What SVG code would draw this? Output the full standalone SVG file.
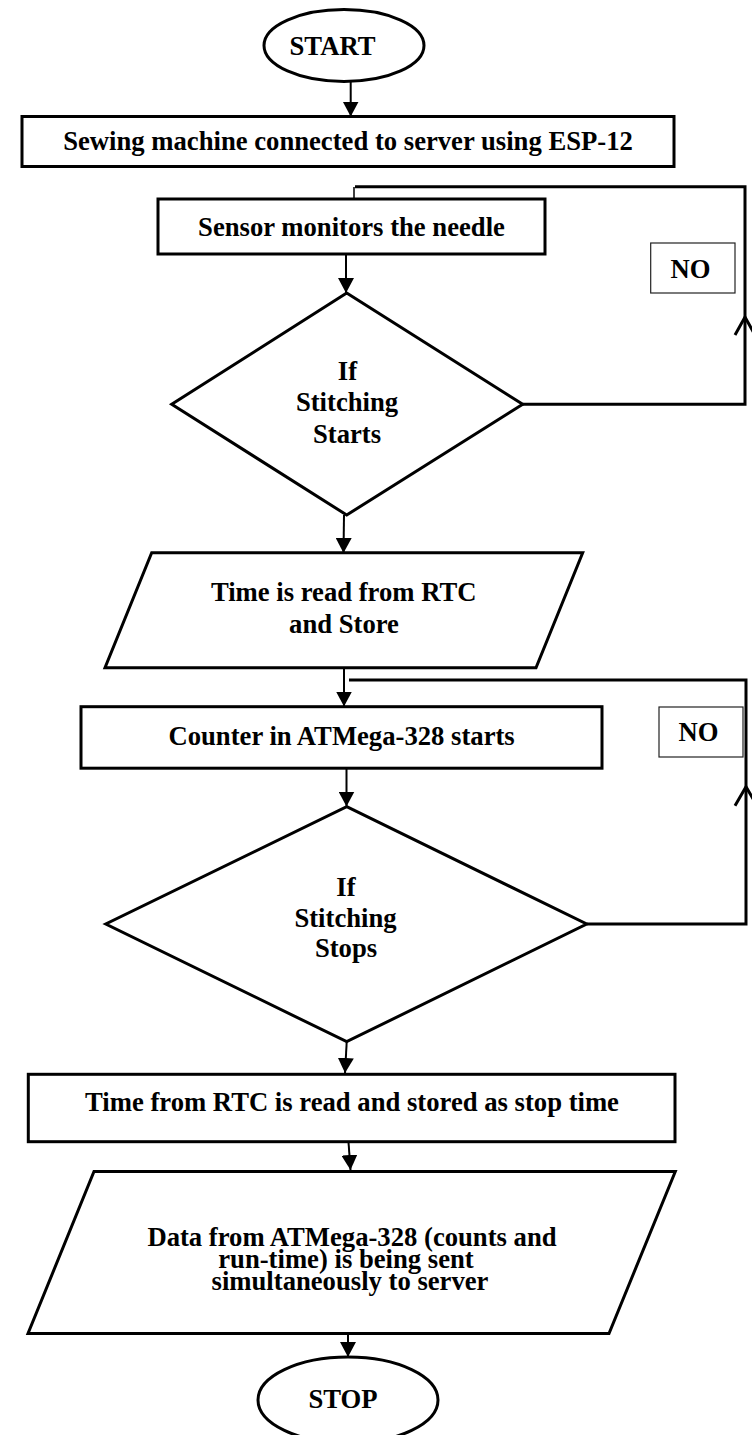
<svg xmlns="http://www.w3.org/2000/svg" width="752" height="1435" viewBox="0 0 752 1435">
<defs>
<marker id="ah" markerUnits="userSpaceOnUse" markerWidth="15" markerHeight="16" refX="15" refY="8" orient="auto" viewBox="0 0 15 16">
<path d="M0,0 L15,8 L0,16 z" fill="#000"/>
</marker>
</defs>
<style>
.box{fill:#fff;stroke:#000;stroke-width:3}
.nobox{fill:#fff;stroke:#222;stroke-width:1.2}
.t{font-family:"Liberation Serif","Times New Roman",serif;font-weight:bold;font-size:26.67px;fill:#000;text-anchor:middle}
.ar{stroke:#000;stroke-width:2;fill:none;marker-end:url(#ah)}
.loop{stroke:#000;stroke-width:3;fill:none}
.thin{stroke:#000;stroke-width:1.5;fill:none}
</style>
<rect width="752" height="1435" fill="#fff"/>
<g id="connectors">
<line class="ar" x1="350.7" y1="82" x2="350.7" y2="116.5"/>
<line class="thin" x1="354" y1="187" x2="354" y2="199"/>
<line class="ar" x1="346" y1="254" x2="346" y2="293"/>
<line class="ar" x1="344" y1="515" x2="343.5" y2="553"/>
<line class="ar" x1="344" y1="668" x2="344" y2="706.5"/>
<line class="ar" x1="346.5" y1="768" x2="346.5" y2="806.5"/>
<line class="ar" x1="346.7" y1="1042" x2="345" y2="1073"/>
<line class="ar" x1="348.5" y1="1142" x2="350.5" y2="1170"/>
<line class="ar" x1="348" y1="1334" x2="348" y2="1357"/>
<polyline class="loop" points="522.7,404.3 745,404.3 745,186.7 355,186.7"/>
<polyline class="loop" points="735,335 745,317 755,335"/>
<polyline class="loop" points="586.7,924 746,924 746,680 349,680"/>
<polyline class="loop" points="735,805.7 746,786.7 757,805.7"/>
</g>
<g id="start">
<ellipse class="box" cx="344" cy="45.5" rx="80" ry="36"/>
<text class="t" x="332.5" y="54.5">START</text>
</g>
<g id="connect">
<rect class="box" x="22" y="116.5" width="652" height="50"/>
<text class="t" x="348" y="150">Sewing machine connected to server using ESP-12</text>
</g>
<g id="sensor">
<rect class="box" x="158" y="199" width="387" height="55"/>
<text class="t" x="351.5" y="236">Sensor monitors the needle</text>
</g>
<g id="no1">
<rect class="nobox" x="650.7" y="243" width="84.3" height="50"/>
<text class="t" x="690.5" y="278.3">NO</text>
</g>
<g id="decision1">
<polygon class="box" points="346.7,293 522.7,404.3 346.7,515 171.7,404.3"/>
<text class="t" x="347.5" y="379.5">If</text>
<text class="t" x="347" y="411">Stitching</text>
<text class="t" x="347" y="442.7">Starts</text>
</g>
<g id="readtime">
<polygon class="box" points="151.7,552.7 582.7,552.7 536,667.7 105,667.7"/>
<text class="t" x="343.7" y="600.7">Time is read from RTC</text>
<text class="t" x="344" y="633.3">and Store</text>
</g>
<g id="counter">
<rect class="box" x="81" y="706.7" width="521" height="61.5"/>
<text class="t" x="341.6" y="745">Counter in ATMega-328 starts</text>
</g>
<g id="no2">
<rect class="nobox" x="659" y="707" width="84" height="50"/>
<text class="t" x="698.5" y="740.7">NO</text>
</g>
<g id="decision2">
<polygon class="box" points="346.7,806.7 586.7,924 346.7,1041.7 105.8,924"/>
<text class="t" x="346" y="895.5">If</text>
<text class="t" x="345.5" y="926.5">Stitching</text>
<text class="t" x="346" y="957">Stops</text>
</g>
<g id="stoptime">
<rect class="box" x="28.3" y="1074.3" width="646.7" height="67.4"/>
<text class="t" x="352" y="1111">Time from RTC is read and stored as stop time</text>
</g>
<g id="senddata">
<polygon class="box" points="94,1171.5 675.3,1171.5 609,1333.5 28,1333.5"/>
<text class="t" x="352" y="1246">Data from ATMega-328 (counts and</text>
<text class="t" x="346" y="1268">run-time) is being sent</text>
<text class="t" x="350" y="1290">simultaneously to server</text>
</g>
<g id="stop">
<ellipse class="box" cx="348" cy="1400" rx="90" ry="43"/>
<text class="t" x="343" y="1408">STOP</text>
</g>
</svg>
